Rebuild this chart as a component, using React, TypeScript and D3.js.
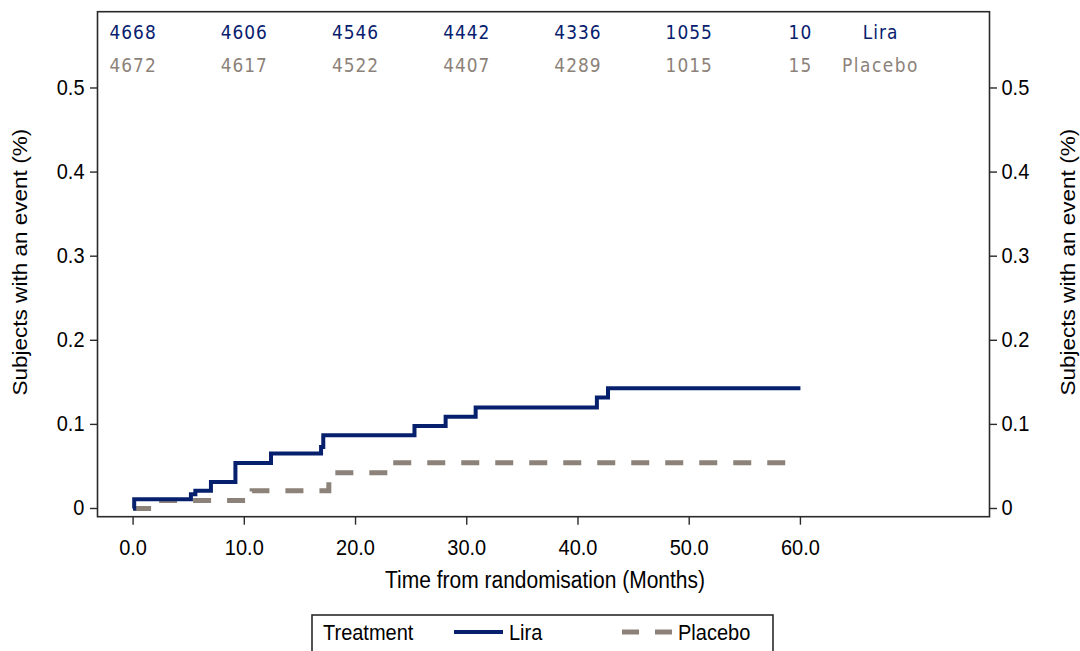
import React from 'react';
import * as d3 from 'd3';

// Kaplan-Meier style cumulative incidence
const liraTimes = [0, 0.1, 5.2, 5.6, 7.0, 9.2, 12.4, 16.9, 17.1, 25.3, 28.1, 30.8, 41.7, 42.7, 60];
const liraValues = [0, 0.011, 0.017, 0.021, 0.0315, 0.054, 0.0655, 0.073, 0.087, 0.098, 0.109, 0.12, 0.132, 0.143, 0.143];

const placeboTimes = [0, 2.0, 10.7, 17.6, 23.0, 60];
const placeboValues = [0, 0.0095, 0.021, 0.0425, 0.0545, 0.0545];

// numbers at risk
const riskTimes = [0, 10, 20, 30, 40, 50, 60];
const liraRisk = [4668, 4606, 4546, 4442, 4336, 1055, 10];
const placeboRisk = [4672, 4617, 4522, 4407, 4289, 1015, 15];

const xTicks = [0, 10, 20, 30, 40, 50, 60];
const yTicks = [0, 0.1, 0.2, 0.3, 0.4, 0.5];

const LIRA = '#06206e';
const PLACEBO = '#8c8279';
const SY = 1.1; // reference glyphs look stretched vertically

const W = 1080;
const H = 651;
const frame = { left: 97.5, right: 989.5, top: 11.7, bottom: 516.7 };

const STxt = ({ x, y, children, anchor = 'start', size = 20, fill = '#000', family = 'Liberation Sans, Arial, sans-serif', ls = 0 }: any) => (
  <text
    transform={`translate(${x},${y}) scale(1,${SY})`}
    textAnchor={anchor}
    fontSize={size}
    fill={fill}
    fontFamily={family}
    letterSpacing={ls}
  >
    {children}
  </text>
);

const App = () => {
  const x = d3.scaleLinear().domain([-3.2, 77]).range([frame.left, frame.right]);
  const y = d3.scaleLinear().domain([-0.00975, 0.5907]).range([frame.bottom, frame.top]);

  const line = d3
    .line<[number, number]>()
    .x(d => x(d[0]))
    .y(d => y(d[1]))
    .curve(d3.curveStepAfter);

  const liraPath = line(liraTimes.map((t, i) => [t, liraValues[i]]) as [number, number][]);
  const placeboPath = line(placeboTimes.map((t, i) => [t, placeboValues[i]]) as [number, number][]);

  const yMid = (frame.top + frame.bottom) / 2 - 2;
  const numFont = 'DejaVu Sans, Verdana, sans-serif';
  const labelX = x(67.2);

  return (
    <svg width={W} height={H} style={{ position: 'absolute', left: 0, top: 0, background: '#fff' }}>
      <rect x={0} y={0} width={W} height={H} fill="#fff" />

      {/* numbers at risk */}
      {riskTimes.map((t, i) => (
        <STxt key={'l' + t} x={x(t)} y={39} anchor="middle" size={17} fill={LIRA} family={numFont} ls={1}>
          {liraRisk[i]}
        </STxt>
      ))}
      <STxt x={labelX} y={39} anchor="middle" size={17} fill={LIRA} family={numFont} ls={1}>Lira</STxt>
      {riskTimes.map((t, i) => (
        <STxt key={'p' + t} x={x(t)} y={71.5} anchor="middle" size={17} fill={PLACEBO} family={numFont} ls={1}>
          {placeboRisk[i]}
        </STxt>
      ))}
      <STxt x={labelX} y={71.5} anchor="middle" size={17} fill={PLACEBO} family={numFont} ls={1.5}>Placebo</STxt>

      {/* curves */}
      <path d={placeboPath || ''} fill="none" stroke={PLACEBO} strokeWidth={5} strokeDasharray="18,16" />
      <path d={liraPath || ''} fill="none" stroke={LIRA} strokeWidth={4} />

      {/* frame */}
      <rect
        x={frame.left}
        y={frame.top}
        width={frame.right - frame.left}
        height={frame.bottom - frame.top}
        fill="none"
        stroke="#2a2a2a"
        strokeWidth={1.6}
      />

      {/* y axes, both sides */}
      {yTicks.map(v => (
        <g key={v}>
          <line x1={frame.left - 7.5} x2={frame.left} y1={y(v)} y2={y(v)} stroke="#2a2a2a" strokeWidth={1.4} />
          <line x1={frame.right} x2={frame.right + 7.5} y1={y(v)} y2={y(v)} stroke="#2a2a2a" strokeWidth={1.4} />
          <STxt x={frame.left - 13} y={y(v) + 7} anchor="end">{v === 0 ? '0' : d3.format('.1f')(v)}</STxt>
          <STxt x={frame.right + 12} y={y(v) + 7} anchor="start">{v === 0 ? '0' : d3.format('.1f')(v)}</STxt>
        </g>
      ))}

      {/* x axis */}
      {xTicks.map(t => (
        <g key={t}>
          <line x1={x(t)} x2={x(t)} y1={frame.bottom} y2={frame.bottom + 8} stroke="#2a2a2a" strokeWidth={1.4} />
          <STxt x={x(t)} y={555} anchor="middle">{d3.format('.1f')(t)}</STxt>
        </g>
      ))}
      <STxt x={545} y={588} anchor="middle" size={21}>Time from randomisation (Months)</STxt>

      {/* axis titles */}
      <text
        transform={`translate(27,${yMid}) rotate(-90) scale(${SY},1)`}
        textAnchor="middle"
        fontSize={20.5}
        fontFamily="Liberation Sans, Arial, sans-serif"
      >
        Subjects with an event (%)
      </text>
      <text
        transform={`translate(1075,${yMid}) rotate(-90) scale(${SY},1)`}
        textAnchor="middle"
        fontSize={20.5}
        fontFamily="Liberation Sans, Arial, sans-serif"
      >
        Subjects with an event (%)
      </text>

      {/* legend */}
      <rect x={312} y={615} width={461} height={50} fill="none" stroke="#2a2a2a" strokeWidth={1.6} />
      <STxt x={323} y={640}>Treatment</STxt>
      <line x1={454} x2={503} y1={632} y2={632} stroke={LIRA} strokeWidth={4} />
      <STxt x={509} y={640}>Lira</STxt>
      <line x1={622} x2={672} y1={632} y2={632} stroke={PLACEBO} strokeWidth={5} strokeDasharray="17,16" />
      <STxt x={678} y={640}>Placebo</STxt>
    </svg>
  );
};

export default App;
